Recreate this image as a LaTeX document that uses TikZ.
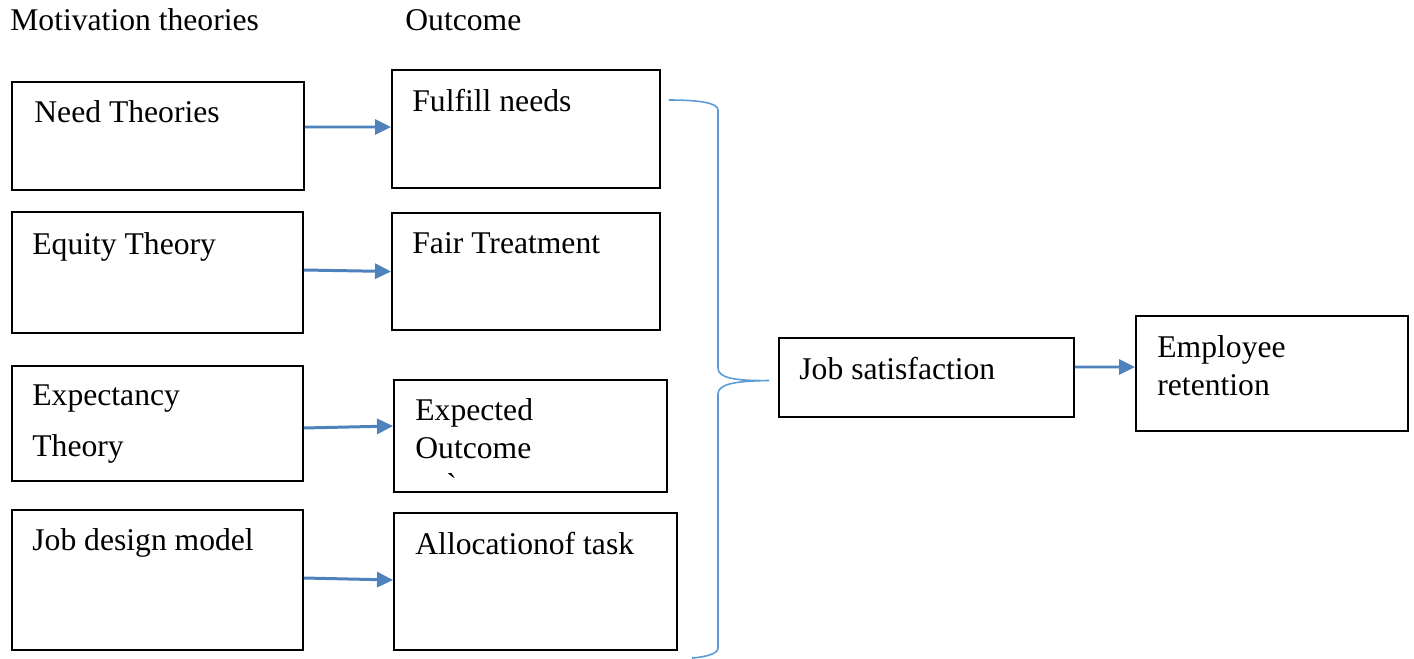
\documentclass[tikz,border=0pt]{standalone}
\usepackage{fontspec}
\setmainfont{Liberation Serif}
\usepackage{tikz}
\usetikzlibrary{arrows.meta, positioning}
\usepackage{xcolor}
\definecolor{arrowblue}{HTML}{4F81BD}
\definecolor{braceblue}{HTML}{5B9BD5}
\tikzset{
  box/.style={rectangle, draw=black, line width=1.1pt, inner sep=0pt},
  txt/.style={anchor=north west, align=left, inner sep=0pt,
              font=\fontsize{18}{21.5}\selectfont},
  arrow/.style={-{Triangle[length=0.32cm, width=0.3cm]}, line width=1.7pt,
                draw=arrowblue},
}

\begin{document}
\begin{tikzpicture}[x=0.02cm, y=-0.02cm]
  \useasboundingbox (0,0) rectangle (1414,659);

  % headings
  \node [txt, anchor=base west] (hmot) at (10,31) {Motivation theories};
  \node [txt, anchor=base west] (hout) at (405,31) {Outcome};

  % theories
  \node [box, minimum width=5.84cm, minimum height=2.16cm] (need) at (158,136) {};
  \node [box, minimum width=5.82cm, minimum height=2.42cm] (equity) at (157.5,272.5) {};
  \node [box, minimum width=5.82cm, minimum height=2.30cm] (expect) at (157.5,423.5) {};
  \node [box, minimum width=5.82cm, minimum height=2.80cm] (jobdes) at (157.5,580) {};

  % outcomes
  \node [box, minimum width=5.36cm, minimum height=2.36cm] (fulfill) at (526,129) {};
  \node [box, minimum width=5.36cm, minimum height=2.34cm] (fair) at (526,271.5) {};
  \node [box, minimum width=5.46cm, minimum height=2.24cm] (expout) at (530.5,436) {};
  \node [box, minimum width=5.66cm, minimum height=2.74cm] (alloc) at (535.5,581.5) {};

  \node [box, minimum width=5.90cm, minimum height=1.58cm] (jobsat) at (926.5,377.5) {};
  \node [box, minimum width=5.44cm, minimum height=2.30cm] (retain) at (1272,373.5) {};

  % texts
  \node [txt, below right=0.38cm and 0.46cm of need.north west] (needT) {Need Theories};
  \node [txt, below right=0.42cm and 0.42cm of equity.north west] (equityT) {Equity Theory};
  \node [txt, below right=0.38cm and 0.42cm of expect.north west] (expectT) {Expectancy\\[8pt]Theory};
  \node [txt, below right=0.38cm and 0.42cm of jobdes.north west] (jobdesT) {Job design model};
  \node [txt, below right=0.40cm and 0.42cm of fulfill.north west] (fulfillT) {Fulfill needs};
  \node [txt, below right=0.40cm and 0.42cm of fair.north west] (fairT) {Fair Treatment};
  \node [txt, below right=0.38cm and 0.44cm of expout.north west] (expoutT) {Expected\\Outcome\\\hspace{0.62cm}\textasciigrave};
  \node [txt, below right=0.40cm and 0.44cm of alloc.north west] (allocT) {Allocationof task};
  \node [txt, below right=0.40cm and 0.42cm of jobsat.north west] (jobsatT) {Job satisfaction};
  \node [txt, below right=0.40cm and 0.44cm of retain.north west] (retainT) {Employee\\retention};

  % arrows
  \draw [arrow] ([yshift=0.18cm]need.east) -- ([yshift=0.04cm]fulfill.west);
  \draw [arrow] ([yshift=0.05cm]equity.east) -- (fair.west);
  \draw [arrow] ([yshift=-0.09cm]expect.east) -- ([yshift=0.20cm]expout.west);
  \draw [arrow] ([yshift=0.04cm]jobdes.east) -- ([yshift=0.03cm]alloc.west);
  \draw [arrow] ([yshift=0.21cm]jobsat.east) -- ([yshift=0.13cm]retain.west);

  % brace
  \coordinate (tip) at ([xshift=-0.18cm, yshift=-0.06cm]jobsat.west);
  \draw [braceblue, line width=0.9pt]
    ([xshift=0.16cm, yshift=0.58cm]fulfill.east)
      .. controls (700,100) and (718,103) .. (718,110)
      -- (718,368) .. controls (718,378) and (735,381) .. (tip)
      .. controls (735,381) and (718,384) .. (718,394)
      -- (718,648) .. controls (718,654) and (705,657) .. (692,658);
\end{tikzpicture}
\end{document}
